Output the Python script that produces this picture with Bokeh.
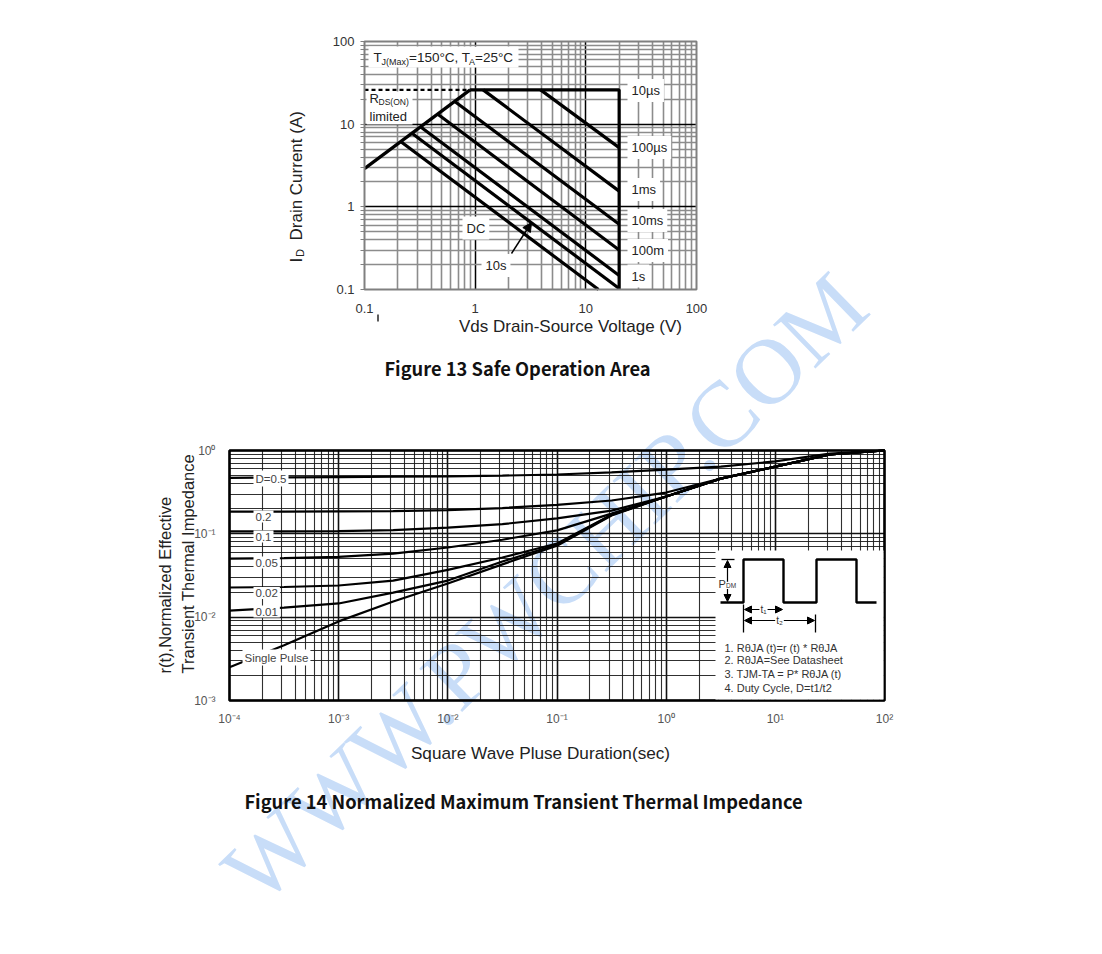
import math
from bokeh.plotting import figure
from bokeh.models import (Range1d, FixedTicker, CustomJSTickFormatter, Label, Arrow,
                          NormalHead, LogScale, LogAxis, Grid)
from bokeh.embed import file_html
from bokeh.resources import INLINE

SANS = "Liberation Sans"
CJK = "Noto Sans CJK SC"

# ---------------- Figure 13 : Safe Operation Area (data) ----------------
soa_ticks = [0.1, 1, 10, 100]
soa_tick_labels = ["0.1", "1", "10", "100"]

rds_v = [0.1, 0.9]
rds_i = [2.9, 26.0]
rds_dash_v = [0.1, 0.9]
rds_dash_i = [26.0, 26.0]
t10us_v = [0.9, 20.0, 20.0]
t10us_i = [26.0, 26.0, 0.1]
t100us_v = [3.9, 20.0]
t100us_i = [26.0, 5.2]
t1ms_v = [1.18, 20.0]
t1ms_i = [26.0, 1.55]
t10ms_v = [0.65, 20.0]
t10ms_i = [18.9, 0.615]
t100ms_v = [0.46, 20.0]
t100ms_i = [13.2, 0.30]
t1s_v = [0.32, 20.0]
t1s_i = [9.3, 0.148]
t10s_v = [0.27, 20.0]
t10s_i = [7.7, 0.103]
tdc_v = [0.215, 13.0]
tdc_i = [6.1, 0.1]

# ---------------- Figure 14 : Transient Thermal Impedance (data) ----------------
zth_x_ticks = [1e-4, 1e-3, 1e-2, 1e-1, 1, 10, 100]
zth_x_labels = ["10⁻⁴", "10⁻³", "10⁻²", "10⁻¹", "10⁰", "10¹", "10²"]
zth_y_ticks = [1e-3, 1e-2, 1e-1, 1]
zth_y_labels = ["10⁻³", "10⁻²", "10⁻¹", "10⁰"]

zth_t = [1e-4, 3.16e-4, 1e-3, 3.16e-3, 1e-2, 3.16e-2, 0.1, 0.316, 1.0, 3.16, 10.0, 31.6, 100.0]
r_d05 = [0.47, 0.475, 0.48, 0.485, 0.49, 0.50, 0.515, 0.545, 0.59, 0.64, 0.74, 0.92, 1.0]
r_d02 = [0.185, 0.185, 0.186, 0.187, 0.193, 0.204, 0.222, 0.251, 0.313, 0.46, 0.64, 0.895, 1.0]
r_d01 = [0.107, 0.107, 0.108, 0.111, 0.119, 0.131, 0.153, 0.19, 0.28, 0.46, 0.64, 0.895, 1.0]
r_d005 = [0.0505, 0.051, 0.053, 0.058, 0.0685, 0.085, 0.11, 0.175, 0.28, 0.46, 0.64, 0.895, 1.0]
r_d002 = [0.0227, 0.023, 0.024, 0.0275, 0.037, 0.052, 0.0765, 0.17, 0.28, 0.46, 0.64, 0.895, 1.0]
r_d001 = [0.012, 0.013, 0.0146, 0.0197, 0.0275, 0.0465, 0.0745, 0.168, 0.28, 0.46, 0.64, 0.895, 1.0]
r_single = [0.0025, 0.0046, 0.0089, 0.0154, 0.0253, 0.043, 0.072, 0.166, 0.28, 0.46, 0.64, 0.895, 1.0]
duty_labels = ["D=0.5", "0.2", "0.1", "0.05", "0.02", "0.01", "Single Pulse"]

notes = ["1. RθJA (t)=r (t) * RθJA",
         "2. RθJA=See Datasheet",
         "3. TJM-TA = P* RθJA (t)",
         "4. Duty Cycle, D=t1/t2"]

# ---------------- page geometry ----------------
W, H = 1100, 950


def lxB(px):   # chart 14 frame: x 229..884 px spans 1e-4..1e2
    return -4 + 6 * (px - 229) / 655.0


def lyB(py):   # chart 14 frame: y 450..700 px spans 1..1e-3
    return -3 * (py - 450) / 250.0


def lxA(px):   # chart 13 frame: x 364..696 px spans 0.1..100
    return -1 + 3 * (px - 364) / 332.0


def lyA(py):   # chart 13 frame: y 41..289 px spans 100..0.1
    return 2 - 3 * (py - 41) / 248.0


def P(px, py):
    return 10 ** lxB(px), 10 ** lyB(py)


def log_formatter(labels, lo):
    return CustomJSTickFormatter(
        args=dict(labels=labels, lo=lo),
        code="const e = Math.round(Math.log10(tick)); const i = e - lo;"
             "return (i >= 0 && i < labels.length) ? labels[i] : '';")


p = figure(width=W, height=H, x_axis_type="log", y_axis_type="log",
           x_range=Range1d(10 ** lxB(0), 10 ** lxB(W)),
           y_range=Range1d(10 ** lyB(H), 10 ** lyB(0)),
           x_axis_location=None, y_axis_location=None,
           output_backend="svg", toolbar_location=None, min_border=0)
p.extra_x_ranges = {"a": Range1d(10 ** lxA(0), 10 ** lxA(W))}
p.extra_y_ranges = {"a": Range1d(10 ** lyA(H), 10 ** lyA(0))}
p.extra_x_scales = {"a": LogScale()}
p.extra_y_scales = {"a": LogScale()}
p.outline_line_color = None
p.xgrid.visible = False
p.ygrid.visible = False


def text(px, py, s, size=13, align="left", color="#222222",
         font=SANS, style="normal", angle=0.0, bg=None, pad=0, level="annotation"):
    # (px, py): page position of the text start (or centre) on its middle line
    x, y = P(px, py)
    lab = Label(x=x, y=y, text=s, text_font=font, text_font_size=f"{size}px",
                text_align=align, text_baseline="middle", text_color=color,
                text_font_style=style, angle=angle, level=level)
    if bg is not None:
        lab.background_fill_color = bg
        try:
            lab.padding = pad
        except Exception:
            pass
    p.add_layout(lab)
    return lab


def white_box(x0, y0, x1, y1):
    l, t = P(x0, y0)
    r, b = P(x1, y1)
    p.quad(left=[l], right=[r], top=[t], bottom=[b], fill_color="white", line_color=None)


def seg(xa, ya, xb, yb, w=1.3, color="black"):
    p0 = P(xa, ya)
    p1 = P(xb, yb)
    p.segment(x0=[p0[0]], y0=[p0[1]], x1=[p1[0]], y1=[p1[1]], line_width=w, color=color)


def arrow(xa, ya, xb, yb, size=7, w=1.2):
    p0 = P(xa, ya)
    p1 = P(xb, yb)
    p.add_layout(Arrow(x_start=p0[0], y_start=p0[1], x_end=p1[0], y_end=p1[1], line_width=w,
                       end=NormalHead(size=size, fill_color="black", line_color="black")))


# watermark (underneath everything)
wx, wy = P(238, 885)
p.add_layout(Label(x=wx, y=wy, text="WWW.PWCHIP.COM", text_font="Liberation Serif",
                   text_font_size="93px", text_color="#c8ddf8",
                   angle=math.radians(44.2), text_align="left",
                   text_baseline="middle", level="underlay"))

# ======================= Figure 13 =======================
minorA = [m * 10.0 ** e for e in (-1, 0, 1) for m in range(2, 10)]
for dim in (0, 1):
    p.add_layout(Grid(dimension=dim, x_range_name="a", y_range_name="a",
                      ticker=FixedTicker(ticks=[1, 10], minor_ticks=minorA),
                      cross_bounds=(soa_ticks[0], soa_ticks[-1]),
                      grid_line_color="black", grid_line_width=1.5,
                      minor_grid_line_color="#8c8c8c", minor_grid_line_width=1.6))

axAx = LogAxis(x_range_name="a", y_range_name="a", fixed_location=soa_ticks[0],
               ticker=FixedTicker(ticks=soa_ticks),
               formatter=log_formatter(soa_tick_labels, -1),
               axis_line_color=None, major_tick_line_color=None, minor_tick_line_color=None,
               major_label_standoff=8, major_label_text_font=SANS,
               major_label_text_font_size="13px", major_label_text_color="#333333")
axAy = LogAxis(x_range_name="a", y_range_name="a", fixed_location=soa_ticks[0],
               ticker=FixedTicker(ticks=soa_ticks, minor_ticks=minorA),
               formatter=log_formatter(soa_tick_labels, -1),
               axis_line_color=None, major_tick_in=0, major_tick_out=4,
               minor_tick_in=0, minor_tick_out=4,
               major_tick_line_color="#808080", minor_tick_line_color="#808080",
               major_label_standoff=6, major_label_text_font=SANS,
               major_label_text_font_size="13px", major_label_text_color="#333333")
p.add_layout(axAx, "below")
p.add_layout(axAy, "left")

white_box(368, 46, 518, 67)
white_box(366, 91, 412, 124)

p.line(rds_dash_v, rds_dash_i, x_range_name="a", y_range_name="a",
       line_width=2.2, color="black", line_dash="4 3")
for vv, ii in [(rds_v, rds_i), (t10us_v, t10us_i), (t100us_v, t100us_i), (t1ms_v, t1ms_i),
               (t10ms_v, t10ms_i), (t100ms_v, t100ms_i), (t1s_v, t1s_i),
               (t10s_v, t10s_i), (tdc_v, tdc_i)]:
    p.line(vv, ii, x_range_name="a", y_range_name="a", line_width=3.2, color="black")

p.quad(left=[soa_ticks[0]], right=[soa_ticks[-1]], bottom=[soa_ticks[0]], top=[soa_ticks[-1]],
       x_range_name="a", y_range_name="a", fill_color=None, line_color="#808080", line_width=2)

# small stray mark under the 0.1 tick label (as in the scan)
seg(377.5, 314, 377.5, 321, w=1.6, color="#333333")

text(373, 56.5, "T", 13.5)
text(381, 61, "J(Max)", 9)
text(408.5, 56.5, "=150°C, T", 13.5)
text(468.5, 61, "A", 9)
text(474.5, 56.5, "=25°C", 13.5)
text(369, 97.5, "R", 13)
text(378, 101.5, "DS(ON)", 8.5)
text(369, 115.5, "limited", 13)

for s, py in [("10µs", 90), ("100µs", 147), ("1ms", 189), ("10ms", 220), ("100m", 250), ("1s", 275.5)]:
    text(627, py, s, 13, bg="white", pad=4)

arrow(511, 253, 531, 222, size=9, w=1.4)
text(462, 227.5, "DC", 13, bg="white", pad=4)
text(481, 265, "10s", 13, bg="white", pad=4)

text(296, 262, "I", 17, angle=math.pi / 2)
text(299.5, 256.5, "D", 11, angle=math.pi / 2)
text(296, 240, "Drain Current (A)", 17, angle=math.pi / 2)
text(570, 326, "Vds Drain-Source Voltage (V)", 17, align="center")
text(517, 367, "Figure 13 Safe Operation Area", 18.3, align="center",
     font=CJK, style="bold", color="#111111")

# ======================= Figure 14 =======================
minorBx = [m * 10.0 ** e for e in range(-4, 2) for m in range(2, 10)]
minorBy = [m * 10.0 ** e for e in range(-3, 0) for m in range(2, 10)]
p.add_layout(Grid(dimension=0, ticker=FixedTicker(ticks=zth_x_ticks, minor_ticks=minorBx),
                  cross_bounds=(zth_y_ticks[0], zth_y_ticks[-1]),
                  grid_line_color="#111111", grid_line_width=1.6,
                  minor_grid_line_color="#1a1a1a", minor_grid_line_width=1.1,
                  minor_grid_line_alpha=0.9))
p.add_layout(Grid(dimension=1, ticker=FixedTicker(ticks=zth_y_ticks, minor_ticks=minorBy),
                  cross_bounds=(zth_x_ticks[0], zth_x_ticks[-1]),
                  grid_line_color="#111111", grid_line_width=1.6,
                  minor_grid_line_color="#1a1a1a", minor_grid_line_width=1.1,
                  minor_grid_line_alpha=0.9))

axBx = LogAxis(fixed_location=zth_y_ticks[0], ticker=FixedTicker(ticks=zth_x_ticks),
               formatter=log_formatter(zth_x_labels, -4),
               axis_line_color=None, major_tick_line_color=None, minor_tick_line_color=None,
               major_label_standoff=5, major_label_text_font=SANS,
               major_label_text_font_size="12px", major_label_text_color="#555555")
axBy = LogAxis(fixed_location=zth_x_ticks[0], ticker=FixedTicker(ticks=zth_y_ticks),
               formatter=log_formatter(zth_y_labels, -3),
               axis_line_color=None, major_tick_line_color=None, minor_tick_line_color=None,
               major_label_standoff=8, major_label_text_font=SANS,
               major_label_text_font_size="12px", major_label_text_color="#555555")
p.add_layout(axBx, "below")
p.add_layout(axBy, "left")

for rr in (r_d05, r_d02, r_d01, r_d005, r_d002, r_d001, r_single):
    p.line(zth_t, rr, line_width=2.2, color="black")

p.quad(left=[zth_x_ticks[0]], right=[zth_x_ticks[-1]], bottom=[zth_y_ticks[0]], top=[zth_y_ticks[-1]],
       fill_color=None, line_color="black", line_width=2.5)

for s, px, py in zip(duty_labels, [253, 253, 253, 253, 253, 253, 242],
                     [478, 516, 536, 562, 592.5, 611, 657]):
    text(px, py, s, 11.5, color="#444444", bg="white", pad=2)

# inset schematic
white_box(715, 550, 883, 699)
wxs = [720, 743, 743, 783, 783, 816, 816, 856, 856, 876]
wys = [602, 602, 559, 559, 602, 602, 559, 559, 602, 602]
pts = [P(a, b) for a, b in zip(wxs, wys)]
p.line([q[0] for q in pts], [q[1] for q in pts], line_width=2.4, color="black")
seg(743, 604, 743, 632)
seg(815, 614, 815, 632)
seg(721, 559, 734, 559)
arrow(727, 581, 727, 560)
arrow(727, 581, 727, 601)
arrow(763, 609, 744, 609)
arrow(763, 609, 782, 609)
arrow(779, 620, 744, 620)
arrow(779, 620, 814, 620)
text(718, 583, "P", 11, color="#333333", bg="white", pad=0)
text(725.5, 585, "DM", 6.5, color="#333333", bg="white", pad=0)
text(763, 609, "t₁", 10, color="#333333", align="center", bg="white", pad=1)
text(779, 620, "t₂", 10, color="#333333", align="center", bg="white", pad=1)
for s, py in zip(notes, [647, 659.5, 673, 687]):
    text(724, py, s, 11, color="#333333")

text(164, 673, "r(t),Normalized Effective", 16.5, angle=math.pi / 2)
text(187, 673, "Transient Thermal Impedance", 16.5, angle=math.pi / 2)
text(540, 752, "Square Wave Pluse Duration(sec)", 17.2, align="center")
text(523, 800, "Figure 14 Normalized Maximum Transient Thermal Impedance", 18.3,
     align="center", font=CJK, style="bold", color="#111111")

open("out.html", "w").write(file_html(p, INLINE))
